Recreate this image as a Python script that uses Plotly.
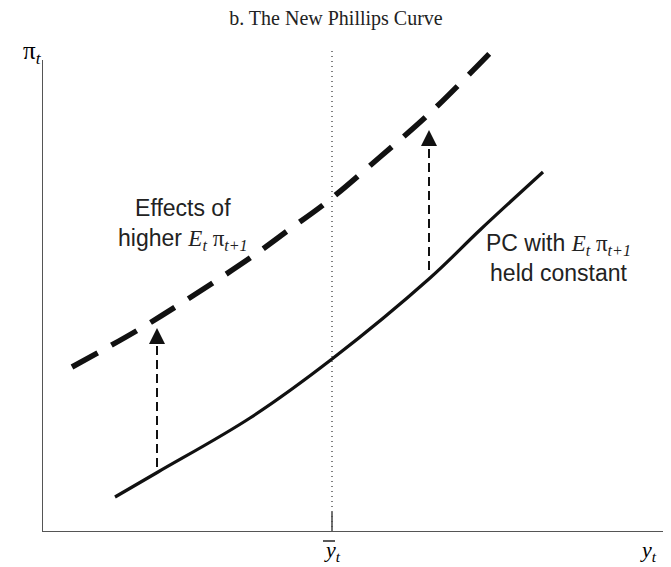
import plotly.graph_objects as go

# curve points (x = output, y = inflation, arbitrary units)
pc_x = [73, 116, 208, 290, 388, 438, 501]
pc_y = [35, 60, 114, 173, 254, 302, 360]

pc_high_x = [30, 96, 149, 211, 248, 285, 338, 388, 448]
pc_high_y = [165, 202, 235, 276, 303, 330, 375, 419, 479]

# shift arrows: (x, base, tip)
arrow_x = [115, 387]
arrow_base = [65, 262]
arrow_tip = [204, 402]

y_bar = 290
x_max = 629
y_max = 492
y_axis_top = 472

serif = "Liberation Serif"
sans = "Liberation Sans"
label_size = 23

# the page puts the figure 8px in from the top-left corner
W, H = 663, 559


def px(x):
    return x / x_max


def py(y):
    return y / y_max


fig = go.Figure()

fig.add_trace(go.Scatter(x=pc_x, y=pc_y, mode="lines", line_shape="spline",
                         line=dict(color="#111", width=3.2), showlegend=False))
fig.add_trace(go.Scatter(x=pc_high_x, y=pc_high_y, mode="lines", line_shape="spline",
                         line=dict(color="#111", width=5.5, dash="29px,16px"), showlegend=False))

head_len = 16
for ax_, b, t in zip(arrow_x, arrow_base, arrow_tip):
    fig.add_trace(go.Scatter(x=[ax_, ax_], y=[b, t - head_len], mode="lines",
                             line=dict(color="#111", width=2, dash="9px,5px"), showlegend=False))
    fig.add_annotation(x=ax_, y=t, ax=ax_, ay=t - head_len, xref="x", yref="y",
                       axref="x", ayref="y", showarrow=True, arrowhead=2,
                       arrowsize=1.6, arrowwidth=2, arrowcolor="#111", text="")

# potential output line and tick
fig.add_shape(type="line", x0=y_bar, x1=y_bar, y0=0, y1=482,
              line=dict(color="black", width=1, dash="1px,4px"))
fig.add_shape(type="line", x0=y_bar, x1=y_bar, y0=0, y1=20,
              line=dict(color="#444", width=1.5))

# axes
fig.add_shape(type="line", x0=0, x1=0, y0=0, y1=y_axis_top, line=dict(color="#555", width=2))
fig.add_shape(type="line", x0=0, x1=x_max, y0=0, y1=0, line=dict(color="#555", width=2))

math_e = "<i>E<sub>t</sub></i> π<sub><i>t+1</i></sub>"
fig.add_annotation(x=141, y=308, xref="x", yref="y", showarrow=False,
                   text="Effects of<br>higher <span style='font-family:Liberation Serif'>"
                        + math_e + "</span>",
                   font=dict(family=sans, size=label_size, color="#222"), align="center")
fig.add_annotation(x=516, y=274, xref="x", yref="y", showarrow=False,
                   text="PC with <span style='font-family:Liberation Serif'>" + math_e
                        + "</span><br>held constant",
                   font=dict(family=sans, size=label_size, color="#222"), align="center")

# axis labels sit outside the plot area, so place them in paper coordinates
fig.add_annotation(x=px(y_bar), y=py(-19), xref="paper", yref="paper", showarrow=False,
                   yanchor="middle", text="<i>y<sub>t</sub></i>",
                   font=dict(family=serif, size=22, color="black"))
fig.add_shape(type="line", xref="paper", yref="paper",
              x0=px(y_bar - 9), x1=px(y_bar + 3), y0=py(-9), y1=py(-9),
              line=dict(color="black", width=1.3))
fig.add_annotation(x=px(617), y=py(-19), xref="paper", yref="paper", showarrow=False,
                   yanchor="middle", text="<i>y<sub>t</sub></i>",
                   font=dict(family=serif, size=22, color="black"))
fig.add_annotation(x=px(-21), y=py(479), xref="paper", yref="paper", showarrow=False,
                   yanchor="middle", text="π<sub><i>t</i></sub>",
                   font=dict(family=serif, size=25, color="black"))

fig.update_layout(
    width=W, height=H,
    margin=dict(l=34, r=0, t=32, b=35),
    plot_bgcolor="white", paper_bgcolor="white",
    title=dict(text="b. The New Phillips Curve", x=(336 - 8) / W, xanchor="center",
               y=1 - 10 / H, yanchor="middle", yref="container",
               font=dict(family=serif, size=20, color="#222")),
    xaxis=dict(range=[0, x_max], visible=False, fixedrange=True),
    yaxis=dict(range=[0, y_max], visible=False, fixedrange=True),
)

fig.write_html("out.html")
